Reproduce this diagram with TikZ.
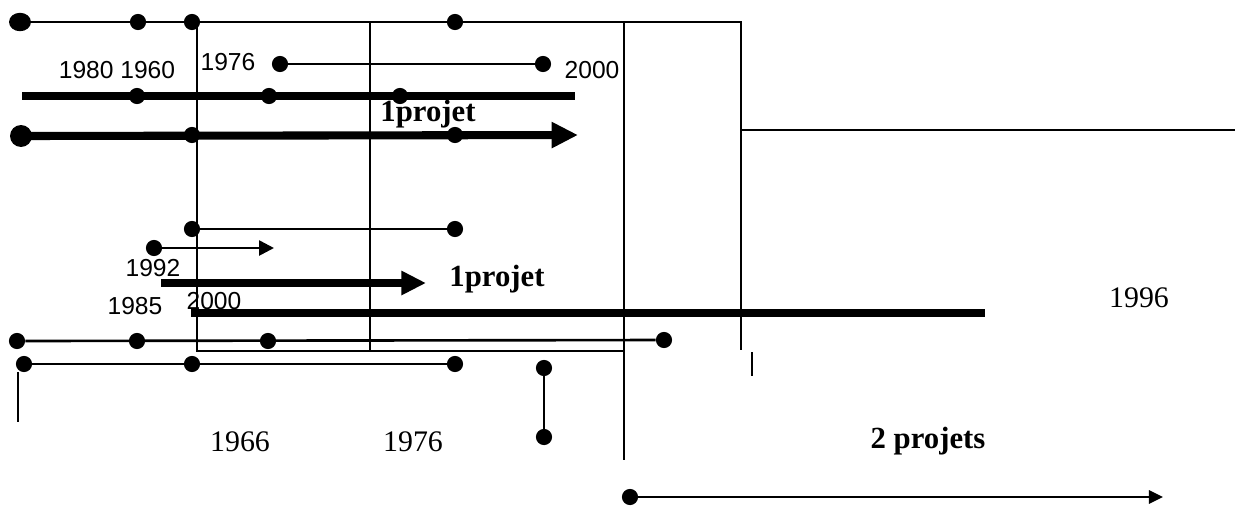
\documentclass[tikz,border=0pt]{standalone}
\usepackage{fontspec}
\setmainfont{Liberation Serif}
\newfontfamily\arialf{Liberation Sans}
\usetikzlibrary{arrows.meta,shapes.geometric}
\tikzset{
  dot/.style={circle,fill=black,inner sep=0pt,minimum size=9.2pt},
  bigdot/.style={ellipse,fill=black,inner sep=0pt,minimum width=12.5pt,minimum height=10.5pt},
  bigdotb/.style={circle,fill=black,inner sep=0pt,minimum size=12.5pt},
  thinln/.style={line width=1.5pt},
  thickln/.style={line width=4.6pt},
  frameln/.style={line width=0.75pt},
  sanslbl/.style={font=\arialf\fontsize{14}{16}\selectfont,inner sep=0pt},
  seriflbl/.style={font=\fontsize{17}{20}\selectfont,inner sep=0pt},
  boldlbl/.style={font=\bfseries\fontsize{17.5}{20}\selectfont,inner sep=0pt},
}
\begin{document}
\begin{tikzpicture}[x=0.02cm,y=-0.02cm]
\useasboundingbox (0,0) rectangle (1239,512);
% frames
\coordinate (f1t) at (197,22); \coordinate (f1b) at (197,351); \coordinate (f1r) at (370,351);
\coordinate (f2t) at (370,22); \coordinate (f2b) at (370,351); \coordinate (f2r) at (624,351);
\coordinate (f3t) at (624,22); \coordinate (f3b) at (624,460);
\coordinate (f4t) at (741,22); \coordinate (f4m) at (741,130); \coordinate (f4b) at (741,350);
\coordinate (hr) at (1235,130);
\coordinate (tk1) at (752,352); \coordinate (tk2) at (752,376);
\draw[frameln] (f1t) -- (f1b) -- (f1r);
\draw[frameln] (f2t) -- (f2b) -- (f2r);
\draw[frameln] (f3t) -- (f3b);
\draw[frameln] (f3t) -- (f4t) -- (f4b);
\draw[frameln] (f4m) -- (hr);
\draw[frameln,line width=1pt] (tk1) -- (tk2);
% row 1
\node[bigdot] (a1) at (20,22) {};
\node[dot] (a2) at (138,22) {};
\node[dot] (a3) at (192,22) {};
\node[dot] (a4) at (455,22) {};
\draw[thinln,line width=1.3pt] (a1) -- (a2) -- (a3) -- (a4) -- (f3t);
% row 2
\node[dot] (b1) at (280,64) {};
\node[dot] (b2) at (543,64) {};
\draw[thinln] (b1) -- (b2);
\node[sanslbl] (l1980) at (117,70) {1980 1960};
\node[sanslbl] (l1976a) at (228,62) {1976};
\node[sanslbl] (l2000a) at (592,70) {2000};
% row 3 thick
\coordinate (c0) at (22,96); \coordinate (c4) at (575,96);
\node[dot] (c1) at (137,96) {};
\node[dot] (c2) at (269,96) {};
\node[dot] (c3) at (400,96) {};
\draw[thickln] (c0) -- (c4);
\node[boldlbl] (p1) at (428,114) {1projet};
% row 4 thick arrow
\node[bigdotb] (d1) at (21,136) {};
\node[dot] (d2) at (192,135) {};
\node[dot] (d3) at (455,135) {};
\coordinate (d4) at (578,135);
\draw[thickln,-{Triangle[length=15pt,width=14pt]}] (d1.center) -- (d4);
% row 5
\node[dot] (e1) at (192,229) {};
\node[dot] (e2) at (455,229) {};
\draw[thinln] (e1) -- (e2);
% row 6 thin arrow
\node[dot] (g1) at (154,248) {};
\coordinate (g2) at (274,248);
\draw[thinln,-{Triangle[length=8.5pt,width=8.5pt]}] (g1) -- (g2);
\node[sanslbl] (l1992) at (153,268) {1992};
% row 7 thick arrow
\coordinate (h1) at (161,283); \coordinate (h2) at (426,283);
\draw[line width=5pt,-{Triangle[length=14pt,width=13pt]}] (h1) -- (h2);
\node[boldlbl] (p2) at (497,279) {1projet};
\node[sanslbl] (l1985) at (135,306) {1985};
\node[sanslbl] (l2000b) at (214,301) {2000};
\node[seriflbl] (l1996) at (1139,298) {1996};
% row 8 thick line
\coordinate (k1) at (191,313); \coordinate (k2) at (985,313);
\draw[thickln] (k1) -- (k2);
% row 9
\node[dot] (m1) at (17,341) {};
\node[dot] (m2) at (137,341) {};
\node[dot] (m3) at (268,341) {};
\node[dot] (m4) at (664,340) {};
\draw[thinln] (m1) -- (m4);
% row 10
\node[dot] (n1) at (24,364) {};
\node[dot] (n2) at (192,364) {};
\node[dot] (n3) at (455,364) {};
\draw[thinln] (n1) -- (n3);
\coordinate (v1) at (18,372); \coordinate (v2) at (18,422);
\draw[frameln,line width=1pt] (v1) -- (v2);
% vertical dumbbell
\node[dot] (q1) at (544,368) {};
\node[dot] (q2) at (544,437) {};
\draw[thinln] (q1) -- (q2);
\node[seriflbl] (l1966) at (240,442) {1966};
\node[seriflbl] (l1976b) at (413,442) {1976};
\node[boldlbl] (p3) at (928,441) {2 projets};
% bottom arrow
\node[dot] (r1) at (630,497) {};
\coordinate (r2) at (1163,497);
\draw[thinln,-{Triangle[length=8pt,width=7.5pt]}] (r1) -- (r2);
\end{tikzpicture}
\end{document}
